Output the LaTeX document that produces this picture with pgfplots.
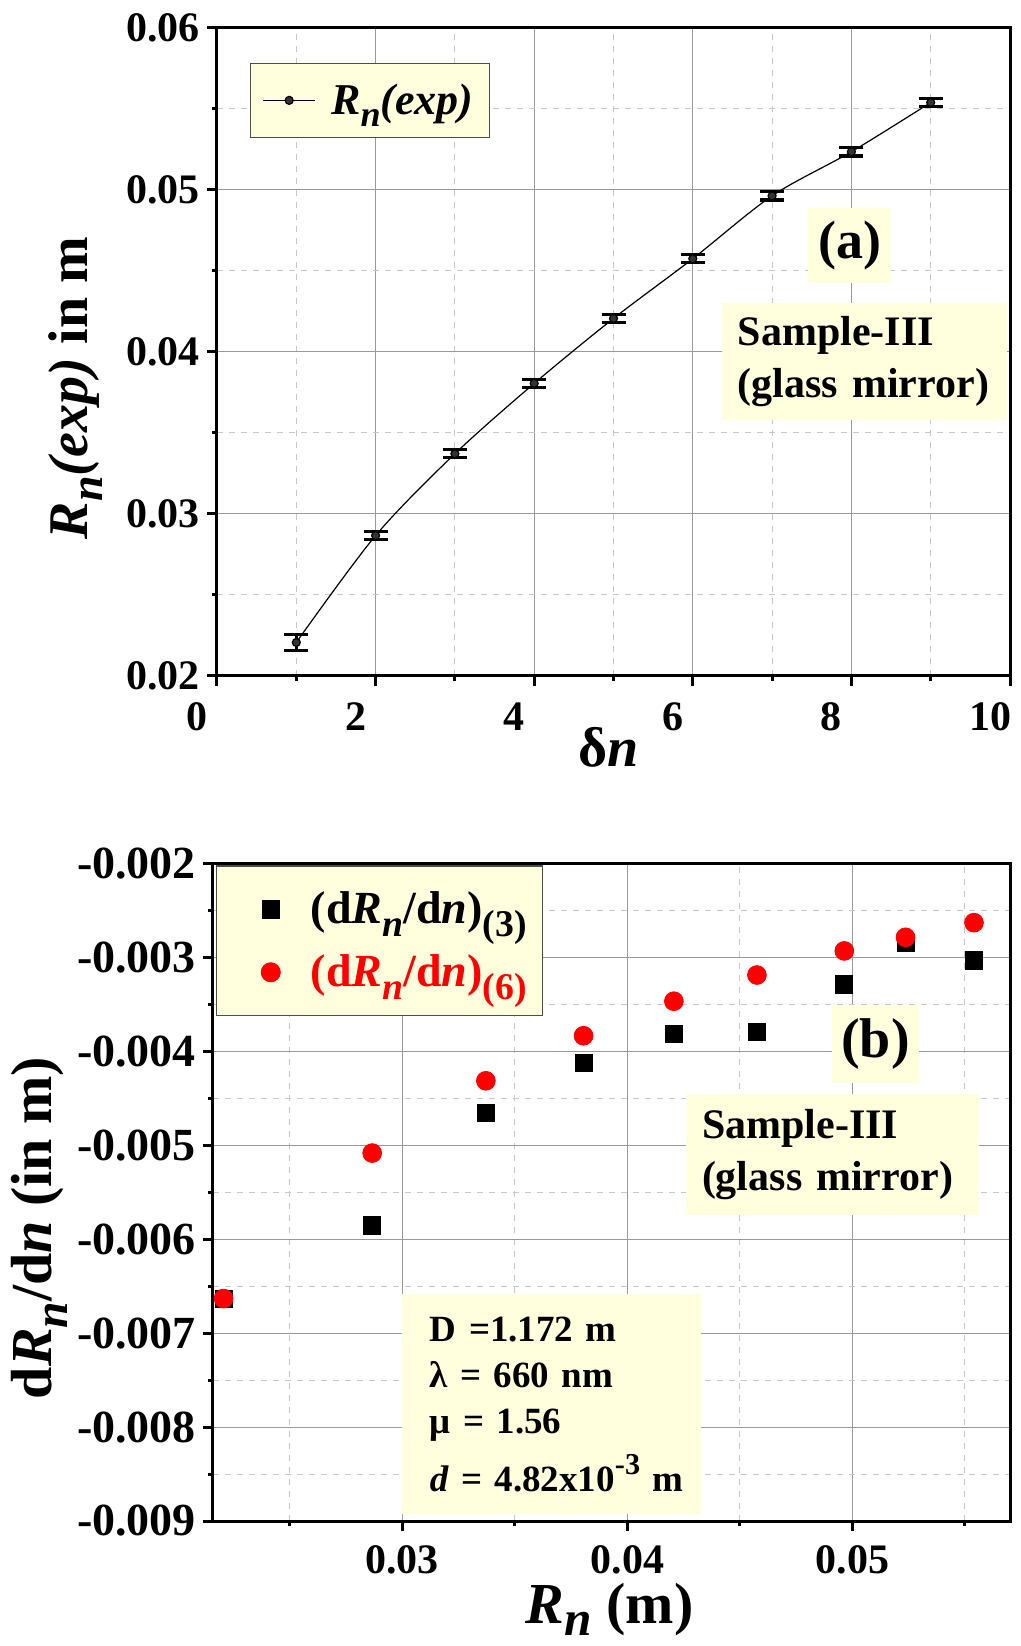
\documentclass[border=0pt]{standalone}
\usepackage{fontspec}
\setmainfont{Liberation Serif}
\usepackage{pgfplots}
\pgfplotsset{compat=1.18}
\definecolor{lyel}{RGB}{255,255,221}
\newcommand{\lo}[1]{\raisebox{-0.28em}{\scalebox{0.82}{#1}}}
\newcommand{\lob}[1]{\raisebox{-0.22em}{\scalebox{0.85}{#1}}}
\newcommand{\up}[1]{\raisebox{0.45em}{\scalebox{0.82}{#1}}}
\pgfplotsset{
 common/.style={
  scale only axis,
  anchor=south west,
  scaled ticks=false,
  grid=both,
  major grid style={draw=black!40, line width=0.5pt},
  minor grid style={draw=black!22, dash pattern=on 3pt off 3pt, line width=0.5pt},
  axis line style={line width=1.5pt},
  tick align=outside,
  tick pos=left,
  major tick length=5pt,
  minor tick length=2.5pt,
  tick style={line width=1.5pt, black},
  /pgf/number format/assume math mode=true,
  tick label style={font=\fontsize{21}{25}\selectfont\bfseries},
  label style={font=\fontsize{28}{32}\selectfont\bfseries},
 }
}
\begin{document}
\begin{tikzpicture}
\path[use as bounding box] (0,0) rectangle (510.5pt,823pt);
% ---------------- top panel (a)
\begin{axis}[common, at={(108.5pt,485pt)}, width=396.5pt, height=324pt,
 xmin=0, xmax=10, ymin=0.02, ymax=0.06,
 xtick={0,2,4,6,8,10}, minor xtick={1,3,5,7,9},
 ytick={0.02,0.03,0.04,0.05,0.06}, minor ytick={0.025,0.035,0.045,0.055},
 yticklabel style={/pgf/number format/.cd,fixed,fixed zerofill,precision=2},
 xticklabel style={xshift=-10pt, yshift=-5pt},
 xlabel={δ\textit{n}},
 ylabel={\textit{R\lo{n}(exp)} in m},
 xlabel style={at={(axis description cs:0.494,-0.1096)}, anchor=center},
 ylabel style={at={(axis description cs:-0.1784,0.4444)}, anchor=center},
 legend style={at={(0.0416,0.946)}, anchor=north west, fill=lyel, draw=black!70, line width=0.6pt,
   font=\fontsize{22}{26}\selectfont\bfseries, inner xsep=6pt, inner ysep=8pt},
 legend image code/.code={\path[draw=none,fill=none] (0pt,0pt) -- (32pt,0pt);\draw[mark repeat=2,mark phase=2] plot coordinates {(0pt,0pt) (13pt,0pt) (26pt,0pt)};},
]
\addplot[black, line width=0.6pt, smooth, mark=*, mark size=2pt, mark options={fill=black!80},
 error bars/.cd, y dir=both, y explicit, error bar style={line width=1.5pt},
 error mark options={line width=1.7pt, mark size=6pt, rotate=90}]
 table[x=x, y=y, y error=e] {
 x y e
 1 0.02207 0.0005
 2 0.02867 0.00025
 3 0.03372 0.00025
 4 0.03806 0.00025
 5 0.04207 0.00025
 6 0.04576 0.00025
 7 0.04964 0.00025
 8 0.05236 0.00025
 9 0.05540 0.00025
 };
\addlegendentry{\textit{R\lo{n}(exp)}}
\node[fill=lyel, minimum width=41.5pt, minimum height=37.5pt, inner sep=0pt,
  font=\fontsize{27}{30}\selectfont\bfseries] at (rel axis cs:0.7976,0.6644) {(a)};
\node[fill=lyel, text width=126.5pt, inner xsep=8pt, minimum height=58.5pt, align=left,
  font=\fontsize{21}{26}\selectfont\bfseries] at (rel axis cs:0.8165,0.4853) {Sample-III\\(glass mirror)};
\end{axis}
% ---------------- bottom panel (b)
\begin{axis}[common, at={(106.5pt,62.5pt)}, width=398.5pt, height=328.5pt,
 xmin=0.0216, xmax=0.0570, ymin=-0.009, ymax=-0.002,
 xtick={0.03,0.04,0.05}, minor xtick={0.025,0.035,0.045,0.055},
 ytick={-0.009,-0.008,-0.007,-0.006,-0.005,-0.004,-0.003,-0.002},
 minor ytick={-0.0085,-0.0075,-0.0065,-0.0055,-0.0045,-0.0035,-0.0025},
 xticklabel style={yshift=-4pt, /pgf/number format/.cd,fixed,fixed zerofill,precision=2},
 yticklabel style={font=\fontsize{23}{26}\selectfont\bfseries, /pgf/number format/.cd,fixed,fixed zerofill,precision=3},
 xlabel={\textit{R\lob{n}} (m)},
 ylabel={d\textit{R\lo{n}}/d\textit{n} (in m)},
 xlabel style={at={(axis description cs:0.4976,-0.1345)}, anchor=center, inner sep=1pt, font=\fontsize{29}{33}\selectfont\bfseries},
 ylabel style={at={(axis description cs:-0.2183,0.446)}, anchor=center, font=\fontsize{29}{33}\selectfont\bfseries},
 legend style={at={(0.004,0.998)}, anchor=north west, fill=lyel, draw=black!70, line width=0.6pt,
   font=\fontsize{23}{28}\selectfont\bfseries, inner xsep=6pt, inner ysep=11pt, row sep=10pt},
 legend image code/.code={\path[draw=none,fill=none] (-21pt,-1pt) rectangle (18pt,1pt);\draw plot coordinates {(0pt,0pt)};},
]
\addplot[only marks, mark=square*, mark size=4.3pt, black] coordinates {
 (0.02207,-0.006632) (0.02867,-0.00585) (0.03372,-0.004656) (0.03806,-0.00412)
 (0.04207,-0.003808) (0.04576,-0.003786) (0.04964,-0.003283) (0.05236,-0.002837)
 (0.05540,-0.003027)};
\addlegendentry{(d\textit{R\lo{n}}/d\textit{n})\lo{(3)}}
\addplot[only marks, mark=*, mark size=4.7pt, red] coordinates {
 (0.02207,-0.00663) (0.02867,-0.00508) (0.03372,-0.00431) (0.03806,-0.00383)
 (0.04207,-0.003462) (0.04576,-0.003183) (0.04964,-0.002926) (0.05236,-0.002781)
 (0.05540,-0.002625)};
\addlegendentry{\textcolor{red}{(d\textit{R\lo{n}}/d\textit{n})\lo{(6)}}}
\node[fill=lyel, minimum width=43.5pt, minimum height=39pt, inner sep=0pt,
  font=\fontsize{28}{30}\selectfont\bfseries] at (rel axis cs:0.8312,0.726) {(b)};
\node[fill=lyel, text width=130.5pt, inner xsep=8pt, minimum height=60.5pt, align=left,
  font=\fontsize{21}{26}\selectfont\bfseries] at (rel axis cs:0.7773,0.5578) {Sample-III\\(glass mirror)};
\node[fill=lyel, text width=121.5pt, inner xsep=14pt, minimum height=110pt, align=left,
  font=\fontsize{18.5}{23}\selectfont\bfseries] at (rel axis cs:0.4247,0.178)
  {\mbox{D =1.172 m}\\\mbox{λ = 660 nm}\\\mbox{μ = 1.56}\\[6pt]\mbox{\textit{d} = 4.82x10\up{-3} m}};
\end{axis}
\end{tikzpicture}
\end{document}
